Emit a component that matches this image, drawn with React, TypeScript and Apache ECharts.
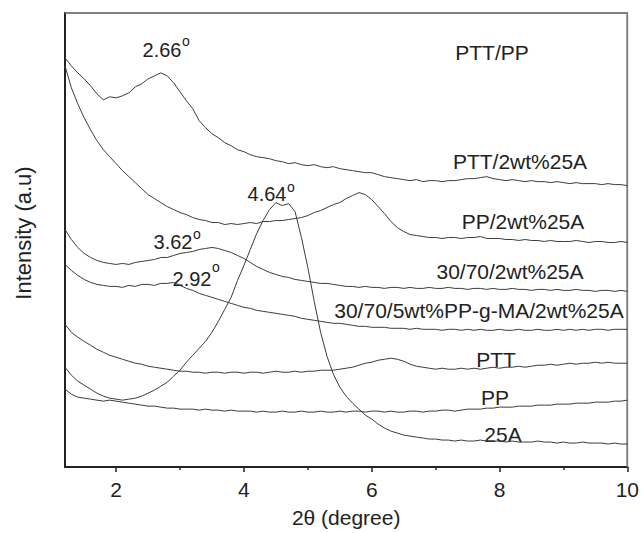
import React, { useEffect, useRef } from "react";
import * as echarts from "echarts";

// 2θ sampling grid (degree)
const twoTheta = [
  1.2, 1.3, 1.4, 1.5, 1.6, 1.7, 1.8, 1.9, 2.0, 2.1,
  2.2, 2.3, 2.4, 2.5, 2.6, 2.7, 2.8, 2.9, 3.0, 3.1,
  3.2, 3.3, 3.4, 3.5, 3.6, 3.7, 3.8, 3.9, 4.0, 4.1,
  4.2, 4.3, 4.4, 4.5, 4.6, 4.7, 4.8, 4.9, 5.0, 5.1,
  5.2, 5.3, 5.4, 5.5, 5.6, 5.7, 5.8, 5.9, 6.0, 6.1,
  6.2, 6.3, 6.4, 6.5, 6.6, 6.7, 6.8, 6.9, 7.0, 7.1,
  7.2, 7.3, 7.4, 7.5, 7.6, 7.7, 7.8, 7.9, 8.0, 8.1,
  8.2, 8.3, 8.4, 8.5, 8.6, 8.7, 8.8, 8.9, 9.0, 9.1,
  9.2, 9.3, 9.4, 9.5, 9.6, 9.7, 9.8, 9.9, 10.0,
];

// Intensity (a.u., stacked offsets as drawn)
const ptt2wt25A = [
  410, 402, 395, 389, 382, 374, 368, 371, 370, 372,
  375, 381, 384, 389, 392, 395, 392, 385, 376, 367,
  359, 347, 340, 334, 330, 325, 322, 318, 316, 313,
  311, 310, 309, 307, 306, 304, 305, 303, 302, 303,
  301, 300, 301, 299, 298, 297, 296, 295, 295, 293,
  291, 290, 289, 288, 287, 288, 286, 287, 287, 286,
  287, 287, 288, 289, 289, 290, 291, 289, 288, 287,
  288, 287, 286, 287, 286, 286, 285, 286, 285, 284,
  285, 284, 284, 284, 283, 284, 283, 283, 282,
];

const pp2wt25A = [
  402, 380, 364, 350, 338, 327, 318, 311, 304, 297,
  291, 285, 279, 273, 269, 265, 261, 258, 255, 253,
  250, 248, 247, 245, 245, 243, 244, 243, 244, 245,
  244, 246, 246, 247, 247, 248, 249, 250, 252, 255,
  257, 260, 263, 265, 269, 272, 275, 273, 268, 261,
  254, 246, 240, 236, 233, 232, 231, 230, 230, 229,
  230, 230, 229, 230, 230, 231, 229, 229, 229, 228,
  228, 227, 228, 227, 227, 226, 227, 226, 226, 226,
  227, 226, 225, 226, 226, 225, 225, 226, 225,
];

const blend2wt25A = [
  238, 228, 220, 214, 210, 207, 205, 204, 203, 204,
  203, 205, 206, 207, 208, 210, 210, 212, 214, 215,
  216, 218, 219, 220, 219, 217, 215, 212, 209, 205,
  201, 198, 195, 193, 191, 190, 188, 187, 186, 185,
  184, 184, 183, 182, 181, 181, 180, 181, 180, 180,
  179, 180, 180, 179, 180, 179, 179, 180, 179, 179,
  180, 179, 179, 178, 179, 179, 178, 179, 178, 178,
  179, 178, 178, 177, 178, 178, 177, 178, 177, 177,
  178, 177, 177, 176, 177, 177, 176, 177, 176,
];

const blendMA2wt25A = [
  203, 197, 192, 188, 185, 183, 182, 181, 181, 180,
  182, 181, 183, 183, 182, 184, 184, 185, 182, 179,
  177, 174, 172, 170, 168, 166, 164, 162, 160, 159,
  157, 156, 155, 154, 153, 152, 151, 149, 148, 147,
  146, 145, 144, 144, 143, 142, 141, 141, 140, 140,
  140, 139, 139, 139, 138, 139, 138, 138, 138, 137,
  138, 138, 137, 138, 137, 138, 137, 137, 138, 137,
  137, 138, 137, 137, 138, 137, 137, 138, 137, 138,
  137, 138, 137, 138, 138, 137, 138, 138, 138,
];

const ptt = [
  143, 135, 130, 126, 122, 118, 115, 112, 110, 108,
  106, 104, 103, 101, 100, 99, 98, 97, 96, 96,
  95, 95, 94, 95, 95, 94, 95, 95, 94, 95,
  95, 94, 95, 96, 95, 95, 96, 95, 96, 96,
  97, 97, 97, 98, 99, 100, 102, 104, 105, 107,
  108, 109, 108, 106, 103, 101, 100, 99, 98, 99,
  98, 98, 99, 98, 99, 98, 99, 100, 99, 100,
  100, 101, 100, 101, 102, 102, 103, 102, 103, 104,
  103, 104, 104, 105, 104, 105, 104, 104, 104,
];

const clay25A = [
  100, 92, 86, 82, 78, 74, 71, 69, 68, 67,
  68, 69, 71, 74, 77, 81, 85, 91, 97, 105,
  112, 119, 126, 135, 146, 158, 170, 187, 202, 218,
  234, 247, 258, 265, 262, 264, 256, 230, 200, 166,
  135, 111, 93, 80, 71, 64, 58, 52, 48, 43,
  39, 36, 34, 32, 31, 30, 29, 28, 28, 27,
  27, 26, 27, 26, 26, 27, 26, 26, 26, 25,
  26, 25, 25, 25, 26, 25, 25, 24, 25, 24,
  24, 25, 24, 24, 24, 23, 24, 23, 23,
];

const pp = [
  78, 73, 70, 69, 68, 67, 66, 67, 66, 65,
  64, 63, 62, 61, 61, 60, 59, 59, 58, 58,
  58, 57, 58, 57, 57, 56, 57, 56, 56, 56,
  55, 56, 55, 55, 56, 55, 55, 56, 55, 55,
  56, 55, 55, 56, 55, 56, 56, 55, 56, 56,
  55, 56, 55, 55, 56, 56, 55, 56, 56, 57,
  57, 56, 57, 58, 58, 58, 59, 59, 60, 60,
  60, 61, 61, 61, 62, 62, 62, 63, 63, 63,
  64, 64, 64, 65, 65, 65, 66, 66, 67,
];

const seriesNames = [
  "PTT/2wt%25A",
  "PP/2wt%25A",
  "30/70/2wt%25A",
  "30/70/5wt%PP-g-MA/2wt%25A",
  "PTT",
  "25A",
  "PP",
];
const seriesValues = [ptt2wt25A, pp2wt25A, blend2wt25A, blendMA2wt25A, ptt, clay25A, pp];

const majorTicks = [2, 4, 6, 8, 10];
const minorTicks = [3, 5, 7, 9];

// axis extents
const X_MIN = 1.2;
const X_MAX = 10;
const Y_MIN = 0;
const Y_MAX = 455;

const FONT = '"Liberation Sans", Arial, Helvetica, sans-serif';
const INK = "#222";
const LINE = "#3c3c3c";
const FRAME = "#7a7a7a";

function label(text: string, x: number, y: number, size = 21) {
  return {
    type: "text",
    x,
    y,
    silent: true,
    style: {
      text,
      fill: INK,
      font: `${size}px ${FONT}`,
      align: "center",
      verticalAlign: "middle",
    },
  };
}

export default function App() {
  const ref = useRef<HTMLDivElement>(null);

  useEffect(() => {
    if (!ref.current) return;
    const chart = echarts.init(ref.current, null, { renderer: "svg" });

    const series: any[] = seriesValues.map((vals, si) => ({
      name: seriesNames[si],
      type: "line",
      xAxisIndex: 0,
      yAxisIndex: 0,
      showSymbol: false,
      symbol: "none",
      silent: true,
      lineStyle: { color: LINE, width: 1 },
      data: twoTheta.map((x, i) => [x, vals[i]]),
    }));

    // top and right frame of the plot box, following the axis extents
    series.push({
      name: "frame",
      type: "line",
      xAxisIndex: 0,
      yAxisIndex: 0,
      showSymbol: false,
      symbol: "none",
      silent: true,
      clip: false,
      z: 1,
      lineStyle: { color: FRAME, width: 1.5 },
      data: [
        [X_MIN, Y_MAX],
        [X_MAX, Y_MAX],
        [X_MAX, Y_MIN],
      ],
    });

    chart.setOption({
      animation: false,
      textStyle: { fontFamily: FONT },
      grid: {
        left: 65,
        right: 14,
        top: 13,
        bottom: 65,
        show: true,
        borderColor: FRAME,
        borderWidth: 1.5,
        containLabel: false,
      },
      xAxis: [
        {
          type: "value",
          position: "bottom",
          min: X_MIN,
          max: X_MAX,
          name: "2θ (degree)",
          nameLocation: "middle",
          nameGap: 40,
          nameTextStyle: { fontSize: 21, color: INK, fontFamily: FONT },
          axisLine: { show: true, onZero: false, lineStyle: { color: "#222", width: 2 } },
          axisTick: { show: true, customValues: majorTicks, length: 5, lineStyle: { color: "#222", width: 1.5 } },
          axisLabel: { customValues: majorTicks, fontSize: 21, color: INK, margin: 12, fontFamily: FONT },
          splitLine: { show: false },
        },
        {
          type: "value",
          position: "bottom",
          min: X_MIN,
          max: X_MAX,
          axisLine: { show: false },
          axisTick: { show: true, customValues: minorTicks, length: 3, lineStyle: { color: "#222", width: 1.5 } },
          axisLabel: { show: false },
          splitLine: { show: false },
        },
      ],
      yAxis: {
        type: "value",
        min: Y_MIN,
        max: Y_MAX,
        position: "left",
        axisLine: { show: true, onZero: false, lineStyle: { color: "#222", width: 2 } },
        axisTick: { show: false },
        axisLabel: { show: false },
        splitLine: { show: false },
      },
      graphic: [
        {
          type: "text",
          x: 23,
          y: 233,
          rotation: Math.PI / 2,
          silent: true,
          style: {
            text: "Intensity (a.u)",
            fill: INK,
            font: `22px ${FONT}`,
            align: "center",
            verticalAlign: "middle",
          },
        },
        label("PTT/PP", 492, 52),
        label("PTT/2wt%25A", 520, 161),
        label("PP/2wt%25A", 523, 221),
        label("30/70/2wt%25A", 510, 271),
        label("30/70/5wt%PP-g-MA/2wt%25A", 479, 310),
        label("PTT", 496, 359),
        label("PP", 495, 397),
        label("25A", 503, 434),
        label("2.66", 162, 50, 20),
        label("o", 186, 41, 14),
        label("4.64", 267, 194, 20),
        label("o", 291, 187, 14),
        label("3.62", 173, 242, 20),
        label("o", 197, 234, 14),
        label("2.92", 192, 279, 20),
        label("o", 216, 267, 14),
      ],
      series,
    });

    return () => chart.dispose();
  }, []);

  return (
    <div
      ref={ref}
      style={{ position: "absolute", left: 0, top: 0, width: 642, height: 533 }}
    />
  );
}
